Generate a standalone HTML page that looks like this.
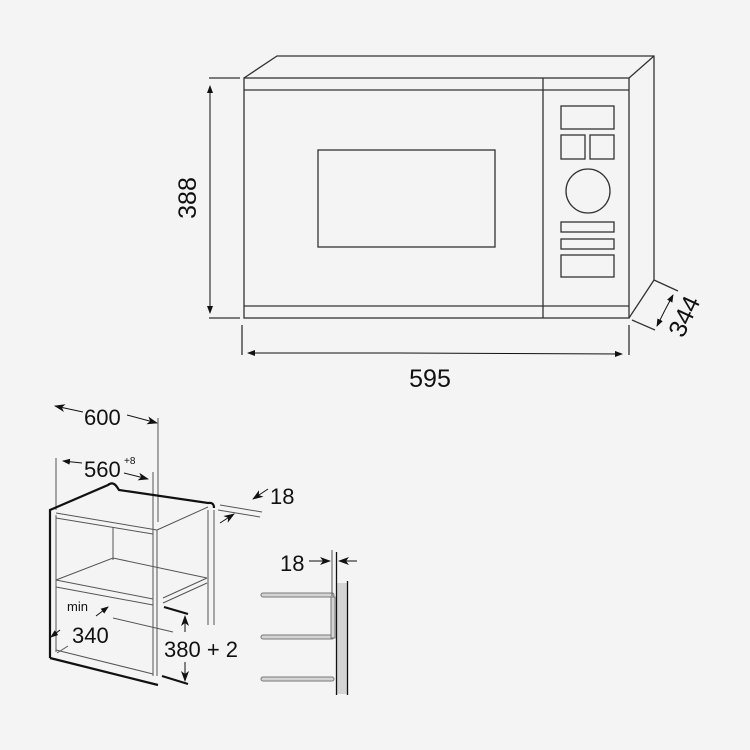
<!DOCTYPE html>
<html><head><style>html,body{margin:0;padding:0;background:#f4f4f4}svg{display:block}</style></head><body>
<svg width="750" height="750" viewBox="0 0 750 750" xmlns="http://www.w3.org/2000/svg" font-family="Liberation Sans, sans-serif">
<rect width="750" height="750" fill="#f4f4f4"/>
<defs><marker id="a" markerWidth="8" markerHeight="6" refX="7" refY="3" orient="auto" markerUnits="userSpaceOnUse"><path d="M0,0 L8,3 L0,6z" fill="#111"/></marker>
<marker id="b" markerWidth="11" markerHeight="8" refX="10" refY="4" orient="auto" markerUnits="userSpaceOnUse"><path d="M0,0 L11,4 L0,8 L3,4z" fill="#111"/></marker></defs>
<g fill="none" stroke="#333" stroke-width="1.3">
<rect x="244" y="78" width="385" height="240"/>
<polyline points="244,78 277,56 654,56 654,280 629,318"/>
<line x1="629" y1="78" x2="654" y2="56"/>
<line x1="244" y1="90" x2="629" y2="90"/>
<line x1="244" y1="306" x2="629" y2="306"/>
<line x1="543" y1="78" x2="543" y2="318"/>
<rect x="318" y="150" width="177" height="97"/>
<rect x="561" y="106" width="53" height="23"/>
<rect x="561" y="135" width="24" height="24"/>
<rect x="590" y="135" width="24" height="24"/>
<circle cx="588" cy="191" r="22"/>
<rect x="561" y="222" width="53" height="10"/>
<rect x="561" y="239" width="53" height="10"/>
<rect x="561" y="255" width="53" height="22"/>
<line x1="209" y1="78" x2="240" y2="78"/><line x1="209" y1="318" x2="240" y2="318"/>
<line x1="242" y1="325" x2="242" y2="355"/><line x1="629" y1="325" x2="629" y2="355"/>
<line x1="654" y1="280" x2="678" y2="291"/><line x1="632" y1="320" x2="655" y2="330"/>
</g>
<g stroke="#111" stroke-width="1" fill="none">
<line x1="210" y1="100" x2="210" y2="86" marker-end="url(#a)"/><line x1="210" y1="100" x2="210" y2="313" marker-end="url(#a)"/>
<line x1="400" y1="353" x2="248" y2="353" marker-end="url(#a)"/><line x1="400" y1="353" x2="622" y2="354" marker-end="url(#a)"/>
<line x1="665" y1="310" x2="673" y2="295" marker-end="url(#a)"/><line x1="665" y1="310" x2="657" y2="326" marker-end="url(#a)"/>
</g>
<g fill="#111" font-size="25">
<text x="430" y="387" text-anchor="middle">595</text>
<text transform="translate(196,198) rotate(-90)" text-anchor="middle">388</text>
<text transform="translate(692,320) rotate(-65)" text-anchor="middle">344</text>
</g>
<g fill="none" stroke="#555" stroke-width="1">
<line x1="158" y1="418" x2="158" y2="522"/>
<line x1="56" y1="458" x2="56" y2="510"/>
<line x1="153" y1="472" x2="153" y2="676"/><line x1="157" y1="530" x2="157" y2="676"/>
<line x1="56" y1="515" x2="56" y2="652"/>
<line x1="56" y1="513" x2="157" y2="530"/><line x1="56" y1="518" x2="153" y2="534"/>
<line x1="157" y1="530" x2="208" y2="507"/>
<line x1="208" y1="510" x2="208" y2="625"/><line x1="214" y1="510" x2="214" y2="625"/>
<line x1="113" y1="527" x2="113" y2="560"/>
<polyline points="56,580 113,558 207,578"/>
<line x1="56" y1="580" x2="153" y2="599"/>
<line x1="163" y1="598" x2="207" y2="578"/><line x1="163" y1="603" x2="207" y2="583"/>
<line x1="56" y1="587" x2="153" y2="605"/>
<line x1="56" y1="650" x2="153" y2="674"/>
<line x1="57" y1="653" x2="68" y2="646"/>
<line x1="113" y1="618" x2="173" y2="632"/>
<line x1="220" y1="505" x2="262" y2="512"/><line x1="218" y1="510" x2="260" y2="517"/>
</g>
<g fill="none" stroke="#111" stroke-width="2.2">
<path d="M50,658 L50,510 L108,485 Q113,481 117,487 L119,490 L208,503 Q214,502 214,508"/>
<line x1="50" y1="658" x2="158" y2="685"/>
<line x1="162" y1="676" x2="188" y2="684"/>
<line x1="164" y1="607" x2="188" y2="614"/>
</g>
<g stroke="#111" stroke-width="1" fill="none">
<line x1="83" y1="412" x2="55" y2="406" marker-end="url(#b)"/>
<line x1="127" y1="415" x2="157" y2="423" marker-end="url(#b)"/>
<line x1="82" y1="463" x2="63" y2="461" marker-end="url(#a)"/>
<line x1="124" y1="473" x2="148" y2="479" marker-end="url(#b)"/>
<line x1="96" y1="616" x2="108" y2="607" marker-end="url(#a)"/>
<line x1="60" y1="630" x2="51" y2="637" marker-end="url(#a)"/>
<line x1="185" y1="632" x2="185" y2="616" marker-end="url(#b)"/>
<line x1="185" y1="662" x2="185" y2="681" marker-end="url(#b)"/>
<line x1="268" y1="489" x2="253" y2="499" marker-end="url(#b)"/>
<line x1="220" y1="523" x2="234" y2="514" marker-end="url(#b)"/>
<line x1="309" y1="561" x2="330" y2="561" marker-end="url(#b)"/>
<line x1="357" y1="561" x2="339" y2="561" marker-end="url(#b)"/>
</g>
<g fill="#111">
<text x="84" y="425" font-size="22">600</text>
<text x="84" y="477" font-size="22">560</text>
<text x="124" y="464" font-size="10">+8</text>
<text x="270" y="504" font-size="22">18</text>
<text x="67" y="611" font-size="13">min</text>
<text x="72" y="643" font-size="22">340</text>
<text x="164" y="657" font-size="22">380 + 2</text>
<text x="280" y="571" font-size="22">18</text>
</g>
<g stroke="#777" stroke-width="1" fill="#d4d4d4">
<rect x="261" y="593" width="73" height="4" rx="2"/>
<rect x="261" y="635" width="73" height="4" rx="2"/>
<rect x="261" y="677" width="73" height="4" rx="2"/>
<rect x="331" y="597" width="4" height="41"/>
<rect x="337" y="583" width="10" height="111" stroke="none"/>
</g>
<g stroke="#111" stroke-width="1.3">
<line x1="336.5" y1="552" x2="336.5" y2="695"/>
<line x1="347.5" y1="581" x2="347.5" y2="695"/>
</g>
<line x1="332" y1="550" x2="332" y2="596" stroke="#555" stroke-width="1"/>
</svg>
</body></html>
